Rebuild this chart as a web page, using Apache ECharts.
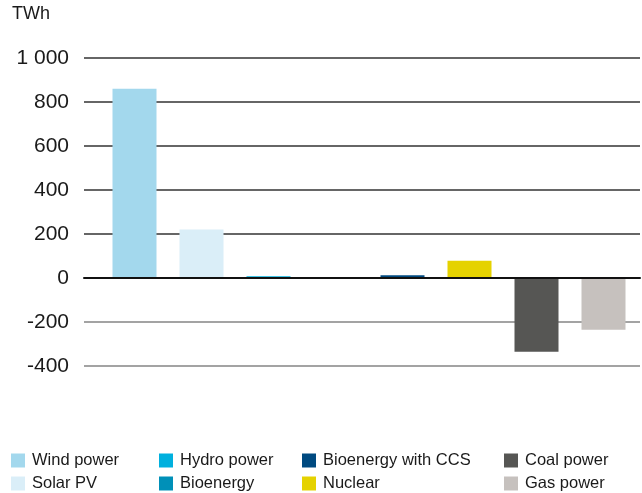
<!DOCTYPE html>
<html>
<head>
<meta charset="utf-8">
<script src="https://cdn.jsdelivr.net/npm/echarts@6/dist/echarts.min.js"></script>
<style>
  html, body { margin: 0; padding: 0; background: #fff; }
  #chart { width: 642px; height: 493px; }
</style>
</head>
<body>
<div id="chart"></div>
<script>
// Change in electricity generation by source, TWh
const categories = ['Wind power', 'Solar PV', 'Hydro power', 'Bioenergy',
  'Bioenergy with CCS', 'Nuclear', 'Coal power', 'Gas power'];
const values = [860, 220, 8, -5, 12, 78, -335, -235];
const colors = ['#a3d8ed', '#daeef8', '#00b0de', '#0090b8',
  '#004a80', '#e5d200', '#565654', '#c6c1be'];
const yTicks = [-400, -200, 0, 200, 400, 600, 800, 1000];

// Legend columns (two entries each)
const legendColumns = [
  ['Wind power', 'Solar PV'],
  ['Hydro power', 'Bioenergy'],
  ['Bioenergy with CCS', 'Nuclear'],
  ['Coal power', 'Gas power']
];
const legendLeft = [11, 159, 302, 504];

const FONT = 'Liberation Sans, Arial, sans-serif';
const yMin = yTicks[0], yMax = yTicks[yTicks.length - 1];

const chart = echarts.init(document.getElementById('chart'));

// One series per source so every source gets its own legend entry
const series = categories.map((name, i) => ({
  name: name,
  type: 'bar',
  xAxisIndex: 1,
  yAxisIndex: 1,
  stack: 'all',
  barWidth: 44,
  itemStyle: { color: colors[i] },
  data: categories.map((c, j) => (j === i ? values[i] : '-'))
}));

chart.setOption({
  animation: false,
  title: {
    text: 'TWh',
    left: 12,
    top: 5,
    padding: 0,
    textStyle: { fontFamily: FONT, fontSize: 18, fontWeight: 'normal', color: '#1a1a1a' }
  },
  legend: legendColumns.map((items, k) => ({
    data: items,
    orient: 'vertical',
    left: legendLeft[k],
    top: 452,
    height: 80,
    itemWidth: 14,
    itemHeight: 14,
    itemGap: 6,
    padding: 0,
    icon: 'rect',
    selectedMode: false,
    textStyle: {
      fontFamily: FONT, fontSize: 16.5, lineHeight: 14,
      color: '#1a1a1a', padding: [0, 0, 0, 2]
    }
  })),
  grid: [
    // wide grid: tick labels, gridlines and the zero line
    { left: 84, right: 2, top: 58, bottom: 127 },
    // inner grid holding the bars
    { left: 101, right: 5, top: 58, bottom: 127 }
  ],
  xAxis: [
    {
      gridIndex: 0,
      type: 'category',
      data: categories,
      z: 10,
      axisLine: { onZero: true, lineStyle: { color: '#111', width: 2 } },
      axisTick: { show: false },
      axisLabel: { show: false },
      splitLine: { show: false }
    },
    {
      gridIndex: 1,
      type: 'category',
      data: categories,
      axisLine: { show: false },
      axisTick: { show: false },
      axisLabel: { show: false },
      splitLine: { show: false }
    }
  ],
  yAxis: [
    {
      gridIndex: 0,
      type: 'value',
      min: yMin,
      max: yMax,
      interval: 200,
      axisLine: { show: false },
      axisTick: { show: false },
      axisLabel: {
        margin: 15,
        fontFamily: FONT,
        fontSize: 21,
        color: '#1a1a1a',
        formatter: v => (Math.abs(v) >= 1000
          ? String(v).replace(/\B(?=(\d{3})+(?!\d))/g, ' ')
          : String(v))
      },
      splitLine: {
        lineStyle: {
          width: 1.5,
          color: yTicks.map(v => (v < 0 ? '#858585' : '#333333'))
        }
      }
    },
    {
      gridIndex: 1,
      type: 'value',
      min: yMin,
      max: yMax,
      interval: 200,
      show: false,
      splitLine: { show: false }
    }
  ],
  series: series
});
</script>
</body>
</html>
